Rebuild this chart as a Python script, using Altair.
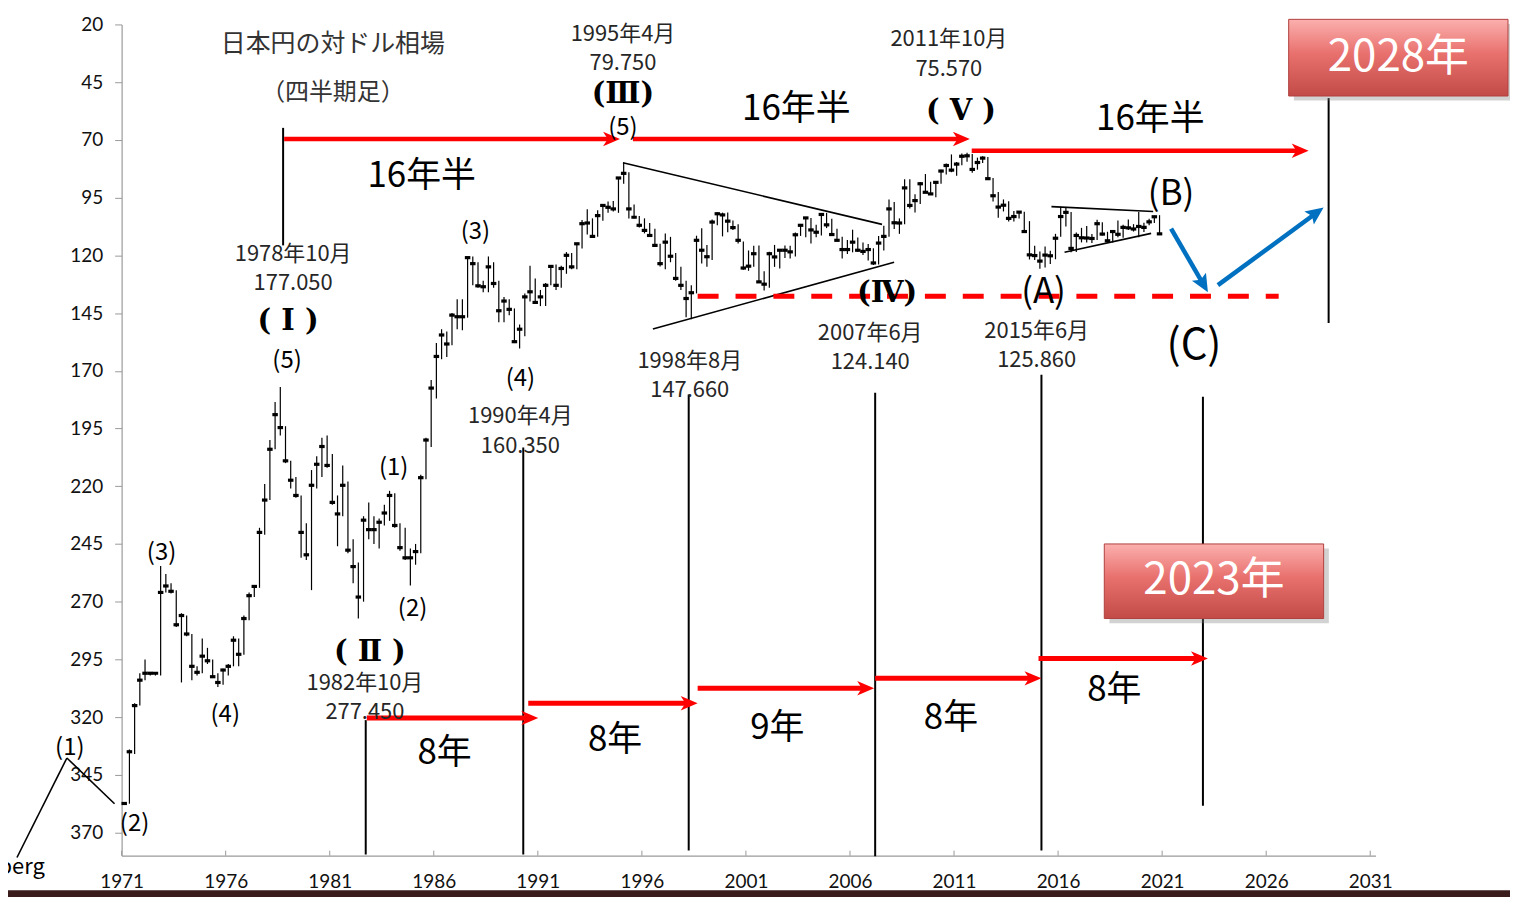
import altair as alt
import pandas as pd

# ---------------- quarterly USD/JPY (1971Q2 .. 2021Q1) ----------------
close_q = [
    357.4, 335.0, 315.0,
    304.0, 301.0, 301.0, 301.0,
    266.0, 263.2, 265.5, 280.0,
    276.0, 284.0, 298.0, 300.6,
    293.6, 295.6, 302.5, 305.0,
    299.6, 298.0, 286.7, 292.8,
    277.3, 267.4, 263.4, 240.0,
    226.0, 204.0, 189.0, 194.6,
    209.0, 217.4, 224.0, 240.0,
    249.7, 219.6, 210.5, 202.8,
    211.0, 227.0, 232.0, 219.6,
    247.7, 254.8, 268.0, 234.7,
    238.8, 238.8, 235.6, 231.6,
    224.0, 237.0, 246.6, 251.0,
    251.0, 248.3, 216.3, 200.0,
    177.5, 163.8, 154.5, 158.4,
    145.9, 146.6, 146.6, 121.0,
    123.6, 133.2, 133.6, 125.0,
    132.2, 144.0, 139.8, 143.4,
    157.4, 152.0, 138.0, 135.8,
    140.4, 138.0, 133.0, 124.8,
    133.0, 125.7, 120.0, 125.0,
    115.0, 106.3, 106.0, 111.8,
    102.8, 98.4, 99.2, 99.9,
    86.5, 84.5, 99.9, 103.5,
    107.0, 109.2, 111.4, 115.7,
    123.6, 114.3, 120.4, 130.0,
    133.0, 138.7, 136.2, 113.5,
    117.8, 120.6, 105.6, 102.0,
    102.5, 105.2, 108.0, 113.5,
    125.5, 124.7, 119.3, 131.5,
    132.5, 119.3, 120.7, 117.8,
    117.8, 118.5, 111.1, 107.0,
    103.8, 109.0, 110.0, 102.3,
    106.8, 111.0, 113.5, 117.5,
    117.5, 114.3, 117.8, 118.3,
    117.5, 123.3, 114.7, 111.8,
    99.9, 105.9, 106.0, 90.8,
    98.4, 96.3, 89.0, 92.7,
    93.4, 88.4, 83.5, 81.1,
    83.1, 80.5, 77.1, 76.9,
    82.8, 79.8, 77.9, 86.8,
    94.2, 99.1, 98.3, 104.0,
    103.2, 101.3, 109.7, 119.8,
    120.1, 122.5, 119.9, 120.2,
    112.6, 103.2, 101.4, 117.0,
    111.4, 112.4, 112.5, 112.7,
    106.3, 110.8, 113.7, 109.7,
    110.9, 107.9, 108.1, 108.6,
    107.5, 107.9, 105.5, 103.3,
    110.7,
]
low_q = [
    357.0, 334.0, 314.0,
    301.0, 295.0, 300.5, 300.5,
    254.5, 258.0, 262.0, 265.0,
    275.0, 276.0, 284.0, 298.0,
    286.0, 290.0, 295.0, 301.0,
    299.0, 297.0, 285.0, 286.0,
    276.0, 266.0, 263.0, 238.0,
    219.0, 200.0, 183.5, 177.0,
    194.0, 209.0, 216.0, 224.0,
    236.0, 213.0, 207.0, 199.0,
    198.0, 206.0, 224.0, 211.0,
    218.0, 243.0, 253.0, 233.0,
    227.0, 233.0, 234.0, 228.0,
    222.0, 223.0, 236.0, 238.0,
    247.0, 245.0, 215.0, 199.0,
    174.0, 158.0, 152.0, 153.0,
    145.0, 139.0, 139.0, 121.0,
    120.5, 123.0, 131.0, 120.5,
    123.0, 131.0, 138.0, 139.0,
    143.0, 150.0, 136.5, 124.5,
    130.0, 135.0, 132.0, 124.5,
    124.0, 124.5, 118.6, 119.0,
    115.0, 104.7, 100.0, 104.0,
    100.5, 98.3, 96.7, 96.5,
    86.4, 79.75, 84.0, 98.0,
    103.0, 104.0, 106.0, 108.5,
    115.0, 110.6, 112.0, 119.0,
    125.0, 131.0, 133.0, 111.5,
    108.3, 115.5, 104.5, 101.3,
    101.5, 101.4, 104.9, 106.5,
    114.0, 117.9, 115.8, 115.7,
    126.9, 118.4, 115.5, 117.6,
    115.7, 115.9, 110.1, 106.7,
    103.4, 103.8, 106.8, 101.8,
    101.6, 104.2, 108.5, 112.0,
    113.4, 108.9, 112.3, 114.4,
    115.1, 116.9, 111.6, 107.2,
    95.8, 96.9, 104.0, 87.1,
    87.1, 93.5, 88.2, 84.8,
    88.1, 88.1, 82.9, 80.2,
    76.3, 79.6, 75.9, 75.57,
    76.1, 77.7, 77.1, 77.4,
    86.5, 92.6, 95.8, 96.6,
    100.8, 100.8, 101.1, 105.2,
    115.9, 118.3, 116.2, 118.0,
    110.7, 99.0, 99.5, 101.2,
    110.1, 108.1, 107.3, 110.8,
    104.6, 105.7, 109.8, 109.6,
    104.9, 106.8, 104.5, 106.5,
    101.2, 105.9, 104.2, 102.9,
    102.6,
]
high_q = [
    358.0, 357.5, 336.0,
    315.0, 304.0, 302.0, 302.0,
    302.0, 266.0, 266.5, 281.0,
    305.0, 285.0, 304.0, 302.0,
    301.0, 297.0, 303.0, 307.0,
    306.0, 302.0, 298.0, 298.0,
    293.0, 278.0, 268.0, 264.0,
    241.0, 226.0, 204.0, 198.0,
    210.0, 221.0, 225.0, 251.0,
    252.0, 265.0, 221.0, 216.0,
    212.0, 228.0, 246.0, 233.0,
    249.0, 262.0, 277.3, 270.0,
    243.0, 245.0, 247.0, 237.0,
    235.0, 238.0, 248.0, 252.0,
    263.0, 254.0, 249.0, 217.0,
    203.0, 182.0, 165.0, 164.0,
    159.0, 152.0, 152.5, 147.0,
    133.0, 134.0, 136.0, 136.0,
    134.0, 149.0, 149.0, 146.0,
    158.0, 160.35, 155.0, 140.0,
    141.0, 142.0, 142.0, 133.0,
    135.0, 134.0, 128.0, 126.0,
    126.0, 117.0, 111.0, 112.0,
    112.0, 105.0, 101.6, 101.0,
    101.6, 89.0, 104.0, 104.0,
    108.0, 110.5, 111.9, 116.0,
    124.8, 126.0, 123.0, 131.0,
    135.0, 146.8, 147.66, 136.5,
    123.5, 125.0, 122.0, 107.0,
    111.8, 110.0, 109.0, 114.9,
    126.3, 126.7, 125.0, 131.8,
    135.2, 134.0, 125.0, 125.7,
    121.2, 121.4, 120.5, 111.6,
    112.2, 114.9, 112.2, 111.4,
    108.2, 111.1, 113.7, 121.4,
    119.4, 118.7, 118.5, 119.9,
    122.2, 124.14, 124.0, 117.9,
    112.0, 108.6, 110.7, 106.5,
    99.7, 101.4, 97.8, 93.0,
    93.7, 94.9, 89.0, 85.0,
    84.0, 85.5, 81.0, 79.5,
    84.2, 82.9, 80.0, 86.8,
    96.7, 103.7, 101.0, 105.4,
    105.4, 104.1, 110.0, 121.8,
    122.0, 125.86, 125.3, 123.8,
    121.7, 112.0, 107.5, 118.7,
    118.6, 114.4, 114.5, 114.7,
    113.4, 111.4, 113.8, 114.5,
    112.2, 112.4, 109.0, 109.7,
    112.2, 109.9, 107.0, 106.0,
    110.9,
]
assert len(close_q) == len(low_q) == len(high_q) == 200
FIRST_SLOT = 1971.125          # centre of the first quarterly slot on the axis
t_q = [FIRST_SLOT + 0.25 * i for i in range(len(close_q))]

# ---------------- axis ----------------
x_ticks = [1971, 1976, 1981, 1986, 1991, 1996, 2001, 2006, 2011, 2016, 2021, 2026, 2031]
y_ticks = [20, 45, 70, 95, 120, 145, 170, 195, 220, 245, 270, 295, 320, 345, 370]

# ---------------- annotations ----------------
guide_t = [1978.76, 2029.0, 1982.73, 1990.3, 1998.25, 2007.21, 2015.2, 2022.96]
guide_v1 = [64.8, 51.9, 321.3, 203.2, 180.3, 179.5, 171.7, 181.2]
guide_v2 = [115.7, 149.3, 379.5, 379.5, 377.8, 380.3, 377.8, 358.4]

seg_t1 = [1995.09, 1996.53, 2015.68, 2016.31, 1965.97, 1968.37]
seg_v1 = [79.9, 151.9, 98.9, 118.7, 380.8, 337.7]
seg_t2 = [2007.54, 2008.12, 2020.57, 2020.47, 1968.37, 1970.66]
seg_v2 = [106.6, 123.0, 101.0, 110.5, 337.7, 357.5]

top_start = [1978.81, 1995.57, 2011.85]
top_tip = [1994.95, 2011.76, 2028.04]
top_v = [69.6, 69.6, 74.7]
bot_start = [1982.78, 1990.54, 1998.68, 2007.21, 2015.06]
bot_tip = [1991.02, 1998.68, 2007.16, 2015.2, 2023.2]
bot_v = [320.4, 314.0, 307.5, 303.2, 294.6]

dash_t = [1998.68, 2026.6]
dash_v = 137.7

blue_t1 = [2021.43, 2023.68]
blue_v1 = [108.4, 132.9]
blue_te = [2022.96, 2028.37]
blue_ve = [132.3, 101.9]
blue_tt = [2023.2, 2028.76]
blue_vt = [136.0, 99.3]
blue_ang = [60, 324]

box_t1 = [2027.08, 2018.22]
box_t2 = [2037.62, 2028.76]
box_v1 = [17.8, 245.0]
box_v2 = [51.0, 277.3]
box_label = ["2028年", "2023年"]

# dark frame band along the bottom edge of the slide
band_t = [1965.0, 2038.0]
band_v = [395.0, 400.0]

jp_labels = ["日本円の対ドル相場", "（四半期足）",
             "1978年10月", "177.050", "1982年10月", "277.450",
             "1990年4月", "160.350", "1995年4月", "79.750",
             "1998年8月", "147.660", "2007年6月", "124.140",
             "2011年10月", "75.570", "2015年6月", "125.860"]
jp_t = [1981.15, 1981.15, 1979.24, 1979.24, 1982.69, 1982.69,
        1990.16, 1990.16, 1995.09, 1995.09, 1998.3, 1998.3,
        2006.97, 2006.97, 2010.75, 2010.75, 2014.97, 2014.97]
jp_v = [28.6, 49.7, 119.6, 132.1, 305.3, 317.8,
        189.8, 202.8, 24.3, 36.8, 165.7, 178.2,
        153.6, 166.1, 26.5, 39.4, 152.8, 165.3]
jp_fs = [25, 24] + [22] * 16
jp_col = ["#333333", "#333333"] + ["#262626"] * 16

wave_labels = ["(1)", "(2)", "(3)", "(4)", "(5)", "(1)", "(2)", "(3)", "(4)", "(5)",
               "(A)", "(B)", "(C)", "Bloomberg"]
wave_t = [1968.51, 1971.62, 1972.92, 1975.98, 1978.95, 1984.07, 1984.98, 1988.0,
          1990.16, 1995.09, 2015.3, 2021.43, 2022.53, 1967.31]
wave_v = [333.4, 366.1, 248.9, 319.1, 165.7, 212.2, 273.0, 109.7, 173.4, 64.8,
          136.0, 93.3, 159.2, 385.0]
wave_fs = [24] * 10 + [35, 35, 42, 22]

roman_labels = ["( Ⅰ )", "( Ⅱ )", "(Ⅲ)", "(Ⅳ)", "( Ⅴ )"]
roman_t = [1979.0, 1982.93, 1995.09, 2007.78, 2011.33]
roman_v = [148.4, 291.6, 50.3, 136.4, 57.5]

span_labels = ["16年半", "16年半", "16年半", "8年", "8年", "9年", "8年", "8年"]
span_t = [1985.42, 2003.42, 2020.43, 1986.52, 1994.71, 2002.51, 2010.85, 2018.7]
span_v = [85.5, 56.6, 61.0, 335.5, 329.9, 324.7, 320.4, 308.4]
span_fs = [35, 35, 35, 35, 35, 35, 35, 35]

# ---------------- chart ----------------
JP = "Noto Sans CJK JP"
RED = "#FF0000"
BLUE = "#0070C0"
xs = alt.Scale(domain=[1971, 2031.25], nice=False, zero=False)
ys = alt.Scale(domain=[20, 380], reverse=True, nice=False, zero=False)

XAXIS = alt.Axis(values=x_ticks, format="d", tickSize=0, labelFlush=False, labelFontSize=19,
                 labelFont="Lato", labelColor="#111111", labelPadding=17, domainColor="#9a9a9a",
                 domainWidth=1.2, grid=False, title=None)
YAXIS = alt.Axis(values=y_ticks, tickSize=7, tickColor="#9a9a9a", domainColor="#9a9a9a",
                 domainWidth=1.2, labelFontSize=19, labelFont="Lato", labelColor="#111111",
                 labelPadding=12, grid=False, title=None)


def X(f):
    return alt.X(f"{f}:Q", scale=xs, axis=XAXIS)


def Y(f):
    return alt.Y(f"{f}:Q", scale=ys, axis=YAXIS)


price = pd.DataFrame({"t": t_q, "c": close_q, "lo": low_q, "hi": high_q})

hl = alt.Chart(price).mark_rule(color="black", strokeWidth=1.2).encode(
    x=X("t"), y=Y("lo"), y2="hi:Q")
cl = alt.Chart(price).mark_tick(orient="horizontal", color="black", size=5.5,
                                thickness=3.2, opacity=1).encode(x=X("t"), y=Y("c"))

xt = alt.Chart(pd.DataFrame({"t": x_ticks})).mark_rule(color="#9a9a9a", strokeWidth=1).encode(
    x=X("t"), y=alt.YValue(834), y2=alt.Y2Value(829))

guides = alt.Chart(pd.DataFrame({"t": guide_t, "v1": guide_v1, "v2": guide_v2})).mark_rule(
    color="black", strokeWidth=2).encode(x=X("t"), y=Y("v1"), y2="v2:Q")

segs = alt.Chart(pd.DataFrame({"t1": seg_t1, "v1": seg_v1, "t2": seg_t2, "v2": seg_v2})).mark_rule(
    color="black", strokeWidth=1.6).encode(x=X("t1"), y=Y("v1"), x2="t2:Q", y2="v2:Q")

SHAFT_BACK = 0.5
top_df = pd.DataFrame({"s": top_start, "e": [a - SHAFT_BACK for a in top_tip], "tip": top_tip, "v": top_v})
bot_df = pd.DataFrame({"s": bot_start, "e": [a - SHAFT_BACK for a in bot_tip], "tip": bot_tip, "v": bot_v})
HEAD = "M0,0L-2,-0.85L-1.45,0L-2,0.85Z"

top_shaft = alt.Chart(top_df).mark_rule(color=RED, strokeWidth=4.5).encode(
    x=X("s"), x2="e:Q", y=Y("v"))
bot_shaft = alt.Chart(bot_df).mark_rule(color=RED, strokeWidth=5).encode(
    x=X("s"), x2="e:Q", y=Y("v"))
top_head = alt.Chart(top_df).mark_point(shape=HEAD, filled=True, color=RED, size=289,
                                        opacity=1, strokeWidth=0).encode(x=X("tip"), y=Y("v"))
bot_head = alt.Chart(bot_df).mark_point(shape=HEAD, filled=True, color=RED, size=289,
                                        opacity=1, strokeWidth=0).encode(x=X("tip"), y=Y("v"))

dashed = alt.Chart(pd.DataFrame({"s": [dash_t[0]], "e": [dash_t[1]], "v": [dash_v]})).mark_rule(
    color=RED, strokeWidth=5, strokeDash=[21, 17]).encode(x=X("s"), x2="e:Q", y=Y("v"))

blue_df = pd.DataFrame({"t1": blue_t1, "v1": blue_v1, "te": blue_te, "ve": blue_ve,
                        "tt": blue_tt, "vt": blue_vt, "a": blue_ang})
blue_shaft = alt.Chart(blue_df).mark_rule(color=BLUE, strokeWidth=4.5).encode(
    x=X("t1"), y=Y("v1"), x2="te:Q", y2="ve:Q")
blue_head = alt.Chart(blue_df).mark_point(shape="M0,0L-2,-0.9L-1.6,0L-2,0.9Z", filled=True,
                                          color=BLUE, size=324, opacity=1, strokeWidth=0).encode(
    x=X("tt"), y=Y("vt"), angle=alt.Angle("a:Q", scale=None))

box_df = pd.DataFrame({"t1": box_t1, "t2": box_t2, "v1": box_v1, "v2": box_v2, "label": box_label,
                       "ts1": [a + 0.25 for a in box_t1], "ts2": [a + 0.25 for a in box_t2],
                       "vs1": [a + 2.0 for a in box_v1], "vs2": [a + 2.0 for a in box_v2],
                       "tm": [(a + b) / 2 for a, b in zip(box_t1, box_t2)],
                       "vm": [(a + b) / 2 for a, b in zip(box_v1, box_v2)]})
box_shadow = alt.Chart(box_df).mark_rect(fill="#7f7f7f", opacity=0.35).encode(
    x=X("ts1"), x2="ts2:Q", y=Y("vs1"), y2="vs2:Q")
box_rect = alt.Chart(box_df).mark_rect(
    fill={"gradient": "linear", "x1": 0, "x2": 0, "y1": 0, "y2": 1,
          "stops": [{"offset": 0, "color": "#FBB0AE"}, {"offset": 0.45, "color": "#E8706D"},
                    {"offset": 1, "color": "#C24B48"}]},
    stroke="#B0403E", strokeWidth=1).encode(x=X("t1"), x2="t2:Q", y=Y("v1"), y2="v2:Q")
box_text = alt.Chart(box_df).mark_text(font=JP, fontSize=44, color="white", align="center",
                                       baseline="middle").encode(x=X("tm"), y=Y("vm"), text="label:N")

band = alt.Chart(pd.DataFrame({"t1": [band_t[0]], "t2": [band_t[1]], "v1": [band_v[0]],
                               "v2": [band_v[1]]})).mark_rect(fill="#3B1C1C").encode(
    x=X("t1"), x2="t2:Q", y=Y("v1"), y2="v2:Q")

jp_text = alt.Chart(pd.DataFrame({"t": jp_t, "v": jp_v, "label": jp_labels, "fs": jp_fs, "col": jp_col})
                    ).mark_text(font=JP, align="center", baseline="middle").encode(
    x=X("t"), y=Y("v"), text="label:N", size=alt.Size("fs:Q", scale=None),
    color=alt.Color("col:N", scale=None))

wave_df = pd.DataFrame({"t": wave_t, "v": wave_v, "label": wave_labels, "fs": wave_fs,
                        "al": ["center"] * 13 + ["right"]})
wave_text = alt.Chart(wave_df[wave_df.al == "center"]).mark_text(
    font=JP, align="center", baseline="middle", color="black").encode(
    x=X("t"), y=Y("v"), text="label:N", size=alt.Size("fs:Q", scale=None))
src_text = alt.Chart(wave_df[wave_df.al == "right"]).mark_text(
    font=JP, align="right", baseline="middle", color="black").encode(
    x=X("t"), y=Y("v"), text="label:N", size=alt.Size("fs:Q", scale=None))

roman_text = alt.Chart(pd.DataFrame({"t": roman_t, "v": roman_v, "label": roman_labels})).mark_text(
    font="DejaVu Serif", fontWeight="bold", fontSize=29, align="center", baseline="middle",
    color="black").encode(x=X("t"), y=Y("v"), text="label:N")

span_text = alt.Chart(pd.DataFrame({"t": span_t, "v": span_v, "label": span_labels, "fs": span_fs})
                      ).mark_text(font=JP, align="center", baseline="middle", color="black").encode(
    x=X("t"), y=Y("v"), text="label:N", size=alt.Size("fs:Q", scale=None))

chart = alt.layer(
    hl, cl, xt, guides, segs, dashed, top_shaft, top_head, bot_shaft, bot_head,
    blue_shaft, blue_head, box_shadow, box_rect, box_text,
    jp_text, wave_text, src_text, roman_text, span_text, band,
).properties(
    width=1258, height=834,
    autosize=alt.AutoSizeParams(type="none"),
    padding={"left": 114, "top": 15, "right": 135, "bottom": 40},
    background="white",
).configure_view(strokeWidth=0)

chart.save("out.html", embed_options={"renderer": "svg", "actions": False})
